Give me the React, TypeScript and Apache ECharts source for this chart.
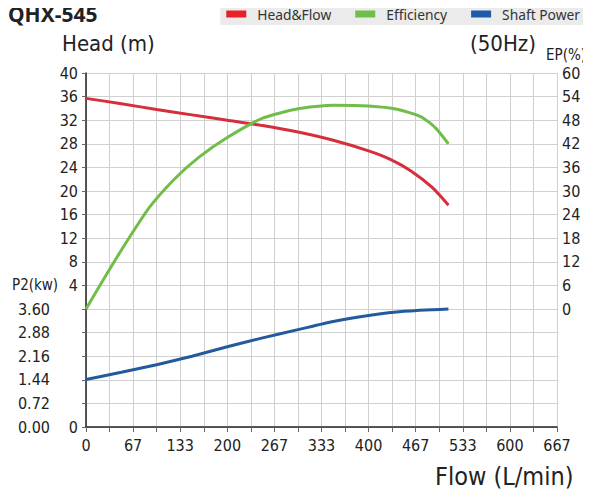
import React, { useEffect, useRef } from 'react';
import * as echarts from 'echarts';

// flow ticks (L/min), every other split line gets a label
export const flowTicks = ['0', '67', '133', '200', '267', '333', '400', '467', '533', '600', '667'];

// Head&Flow curve
export const headFlow = [0, 50, 100, 150, 200, 250, 300, 350, 400, 430, 460, 490, 513];
export const headValues = [35.7, 34.8, 33.8, 32.9, 32.0, 31.1, 30.0, 28.6, 26.8, 25.4, 23.4, 20.6, 17.6];

// Efficiency curve (%)
export const effFlow = [0, 30, 60, 90, 125, 160, 200, 250, 300, 350, 400, 440, 475, 495, 513];
export const effValues = [0, 9.1, 17.8, 25.9, 33.0, 38.6, 43.6, 48.5, 50.9, 51.8, 51.6, 50.8, 48.8, 46.0, 42.0];

// Shaft power curve (kW)
export const powerFlow = [0, 50, 100, 150, 200, 250, 300, 350, 400, 450, 513];
export const powerValues = [1.45, 1.67, 1.90, 2.16, 2.45, 2.72, 2.97, 3.22, 3.40, 3.53, 3.60];

const narrow = "'DejaVu Sans Condensed', 'Liberation Sans Narrow', sans-serif";

const pairs = (xs: number[], ys: number[]) => xs.map((x, i) => [x, ys[i]]);

const App: React.FC = () => {
    const chartRef = useRef<HTMLDivElement>(null);

    useEffect(() => {
        if (!chartRef.current) return;
        const myChart = echarts.init(chartRef.current, undefined, { renderer: 'svg' });
        const option: echarts.EChartsOption = {
            animation: false,
            backgroundColor: '#fff',
            grid: { left: 86, right: 34, top: 73, bottom: 73 },
            legend: {
                right: 0,
                top: 3,
                backgroundColor: '#ebebeb',
                padding: [4, 11, 4, 6],
                itemGap: 24,
                itemWidth: 20,
                itemHeight: 7,
                icon: 'rect',
                textStyle: { fontSize: 13.8, color: '#333', fontFamily: "'Noto Sans', sans-serif", padding: [0, 0, 0, 6] },
                data: ['Head&Flow', 'Efficiency', 'Shaft Power']
            },
            graphic: [
                { type: 'text', left: 8, top: 3, style: { text: 'QHX-545', fontSize: 21, fontWeight: 'bold', fill: '#222', fontFamily: "'Noto Sans', sans-serif" } },
                { type: 'text', left: 62, top: 32, style: { text: 'Head (m)', fontSize: 22, fill: '#222', fontFamily: narrow } },
                { type: 'text', left: 470, top: 32, style: { text: '(50Hz)', fontSize: 22, fill: '#222', fontFamily: narrow } },
                { type: 'text', left: 546, top: 47, style: { text: 'EP(%)', fontSize: 15, fill: '#222', fontFamily: narrow } },
                { type: 'text', left: 12, top: 277, style: { text: 'P2(kw)', fontSize: 15, fill: '#222', fontFamily: narrow } },
                { type: 'text', left: 435, top: 464, style: { text: 'Flow (L/min)', fontSize: 25, fill: '#222', fontFamily: narrow } }
            ],
            xAxis: {
                type: 'value',
                min: 0,
                max: 2000 / 3,
                interval: 100 / 3,
                axisLine: { show: true, onZero: false, lineStyle: { color: '#222', width: 1.5 } },
                axisTick: { show: true, length: 5, lineStyle: { color: '#666' } },
                splitLine: { show: true, lineStyle: { color: '#d0d0d0' } },
                axisLabel: {
                    margin: 10,
                    fontSize: 16,
                    color: '#222',
                    fontFamily: narrow,
                    formatter: (_v: number, i: number) => (i % 2 === 0 ? flowTicks[i / 2] ?? '' : '')
                }
            },
            yAxis: [
                {
                    type: 'value',
                    position: 'left',
                    min: -20,
                    max: 40,
                    interval: 4,
                    axisLine: { show: true, onZero: false, lineStyle: { color: '#222', width: 1.5 } },
                    axisTick: { show: true, length: 4, lineStyle: { color: '#666' } },
                    splitLine: { show: true, lineStyle: { color: '#d0d0d0' } },
                    axisLabel: {
                        margin: 8,
                        fontSize: 16,
                        color: '#222',
                        fontFamily: narrow,
                        formatter: (v: number) => (v > 0 ? String(v) : v === -20 ? '0' : '')
                    }
                },
                {
                    type: 'value',
                    position: 'right',
                    min: -30,
                    max: 60,
                    interval: 6,
                    axisLine: { show: false },
                    axisTick: { show: false },
                    splitLine: { show: false },
                    axisLabel: {
                        margin: 5,
                        fontSize: 16,
                        color: '#222',
                        fontFamily: narrow,
                        formatter: (v: number) => (v >= 0 ? String(v) : '')
                    }
                },
                {
                    type: 'value',
                    position: 'left',
                    min: 0,
                    max: 10.8,
                    interval: 0.72,
                    axisLine: { show: false },
                    axisTick: { show: false },
                    splitLine: { show: false },
                    axisLabel: {
                        margin: 36,
                        fontSize: 16,
                        color: '#222',
                        fontFamily: narrow,
                        formatter: (v: number) => (v <= 3.6001 ? v.toFixed(2) : '')
                    }
                }
            ],
            series: [
                {
                    name: 'Head&Flow',
                    type: 'line',
                    yAxisIndex: 0,
                    smooth: 0.2,
                    showSymbol: false,
                    data: pairs(headFlow, headValues),
                    lineStyle: { width: 3, color: '#d42f3b' },
                    itemStyle: { color: '#e8202a' }
                },
                {
                    name: 'Efficiency',
                    type: 'line',
                    yAxisIndex: 1,
                    smooth: 0.2,
                    showSymbol: false,
                    data: pairs(effFlow, effValues),
                    lineStyle: { width: 3, color: '#72bd48' },
                    itemStyle: { color: '#6cc04a' }
                },
                {
                    name: 'Shaft Power',
                    type: 'line',
                    yAxisIndex: 2,
                    smooth: 0.2,
                    showSymbol: false,
                    data: pairs(powerFlow, powerValues),
                    lineStyle: { width: 3, color: '#235a9c' },
                    itemStyle: { color: '#1d5aa8' }
                }
            ]
        };
        myChart.setOption(option);

        const handleResize = () => {
            myChart.resize();
        };
        window.addEventListener('resize', handleResize);

        return () => {
            window.removeEventListener('resize', handleResize);
            myChart.dispose();
        };
    }, []);

    return (
        <div ref={chartRef} style={{ width: '591px', height: '500px', margin: '-8px' }} />
    );
};

export default App;
